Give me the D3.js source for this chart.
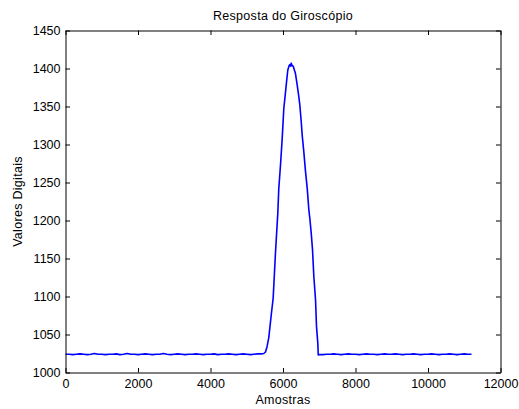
<!DOCTYPE html>
<html>
<head>
<meta charset="utf-8">
<script src="https://cdn.jsdelivr.net/npm/d3@7"></script>
<style>
  html, body { margin: 0; padding: 0; background: #fff; }
  svg text { font-family: "Liberation Sans", Arial, Helvetica, sans-serif; fill: #000; }
</style>
</head>
<body>
<svg id="chart" width="519" height="409"></svg>
<script>
// ---- data ----
const titleText = "Resposta do Giroscópio";
const xLabelText = "Amostras";
const yLabelText = "Valores Digitais";
const xTicks = [0, 2000, 4000, 6000, 8000, 10000, 12000];
const yTicks = [1000, 1050, 1100, 1150, 1200, 1250, 1300, 1350, 1400, 1450];

const baseLeftX = [0,100,200,300,400,500,600,700,800,900,1000,1100,1200,1300,1400,1500,1600,1700,1800,1900,
  2000,2100,2200,2300,2400,2500,2600,2700,2800,2900,3000,3100,3200,3300,3400,3500,3600,3700,3800,3900,
  4000,4100,4200,4300,4400,4500,4600,4700,4800,4900,5000,5100,5200,5300,5400];
const baseLeftY = [1024,1024,1023.5,1024,1024.5,1024,1023.5,1024,1025,1024,
  1024,1023.5,1024,1024,1024.5,1023.5,1024,1025,1024,1024,
  1023.5,1024,1024.5,1024,1023.5,1024,1024,1025,1024,1023.5,
  1024,1024.5,1024,1023.5,1024,1024,1024.5,1024,1023.5,1024,
  1024,1024.5,1023.5,1024,1024,1024.5,1024,1023.5,1024,1024.5,
  1024,1023.5,1024,1024.5,1024.5];

const peakX = [5470,5517,5560,5608,5674,5729,5793,5856,5884,5931,5978,6022,6069,6097,6133,6170,6188,6210,6227,6250,
  6282,6345,6392,6436,6464,6503,6530,6575,6622,6669,6713,6740,6779,6815,6851,6898,6925,6961,6972,6989];
const peakY = [1025,1027,1034,1046,1075,1098,1158,1209,1242,1273,1308,1347,1369,1382,1398,1404,1405,1403,1407,1404,
  1403,1393,1378,1363,1352,1330,1312,1290,1264,1242,1214,1203,1183,1161,1126,1095,1060,1038,1023,1023.5];

const baseRightX = [7100,7200,7300,7400,7500,7600,7700,7800,7900,8000,8100,8200,8300,8400,8500,8600,8700,8800,8900,9000,
  9100,9200,9300,9400,9500,9600,9700,9800,9900,10000,10100,10200,10300,10400,10500,10600,10700,10800,10900,11000,
  11100,11200];
const baseRightY = [1023.5,1024,1024,1024.5,1024,1023.5,1024,1024.5,1024,1024,
  1023.5,1024,1024.5,1024,1024,1023.5,1024,1024.5,1024,1024,
  1024.5,1024,1023.5,1024,1024,1024.5,1024,1023.5,1024,1024,
  1024.5,1024,1023.5,1024,1024,1024.5,1024,1023.5,1024,1024.5,
  1024,1024];

// ---- build series ----
const series = [];
baseLeftX.forEach((x, i) => series.push([x, baseLeftY[i]]));
peakX.forEach((x, i) => series.push([x, peakY[i]]));
baseRightX.forEach((x, i) => series.push([x, baseRightY[i]]));

// ---- layout ----
const L = 65.5, R = 500.5, T = 30.5, B = 372.5;
const svg = d3.select("#chart");
svg.append("rect").attr("width", 519).attr("height", 409).attr("fill", "#fff");

const x = d3.scaleLinear().domain([0, 12000]).range([L, R]);
const y = d3.scaleLinear().domain([1000, 1450]).range([B, T]);

const tick = 4.5;
const fontSize = "12.5px";

// line
svg.append("path")
  .datum(series)
  .attr("fill", "none")
  .attr("stroke", "#0000ff")
  .attr("stroke-width", 1.6)
  .attr("stroke-linejoin", "round")
  .attr("d", d3.line().x(d => x(d[0])).y(d => y(d[1])));

// axes
const gx = svg.append("g").attr("transform", `translate(0,${B})`)
  .call(d3.axisBottom(x).tickValues(xTicks).tickFormat(d3.format("d")).tickSizeInner(-tick).tickSizeOuter(0).tickPadding(6.5));
const gy = svg.append("g").attr("transform", `translate(${L},0)`)
  .call(d3.axisLeft(y).tickValues(yTicks).tickFormat(d3.format("d")).tickSizeInner(-tick).tickSizeOuter(0).tickPadding(5));
const gt = svg.append("g").attr("transform", `translate(0,${T})`)
  .call(d3.axisTop(x).tickValues(xTicks).tickFormat("").tickSizeInner(-tick).tickSizeOuter(0));
const gr = svg.append("g").attr("transform", `translate(${R},0)`)
  .call(d3.axisRight(y).tickValues(yTicks).tickFormat("").tickSizeInner(-tick).tickSizeOuter(0));

[gx, gy, gt, gr].forEach(g => {
  g.selectAll(".domain").attr("stroke", "#000").attr("stroke-width", 1);
  g.selectAll(".tick line").attr("stroke", "#000").attr("stroke-width", 1);
  g.selectAll("text").attr("font-size", fontSize).attr("font-family", "Liberation Sans, Arial, sans-serif").attr("fill", "#111");
});

// title & labels
svg.append("text")
  .attr("x", (L + R) / 2).attr("y", 20)
  .attr("text-anchor", "middle")
  .attr("font-size", "12.5px")
  .attr("letter-spacing", "0.3px")
  .attr("fill", "#111")
  .text(titleText);

svg.append("text")
  .attr("x", (L + R) / 2).attr("y", 404)
  .attr("text-anchor", "middle")
  .attr("font-size", "12.5px")
  .attr("letter-spacing", "0.3px")
  .attr("fill", "#111")
  .text(xLabelText);

svg.append("text")
  .attr("transform", `translate(22,${(T + B) / 2}) rotate(-90)`)
  .attr("text-anchor", "middle")
  .attr("font-size", "12.5px")
  .attr("letter-spacing", "0.3px")
  .attr("fill", "#111")
  .text(yLabelText);
</script>
</body>
</html>
